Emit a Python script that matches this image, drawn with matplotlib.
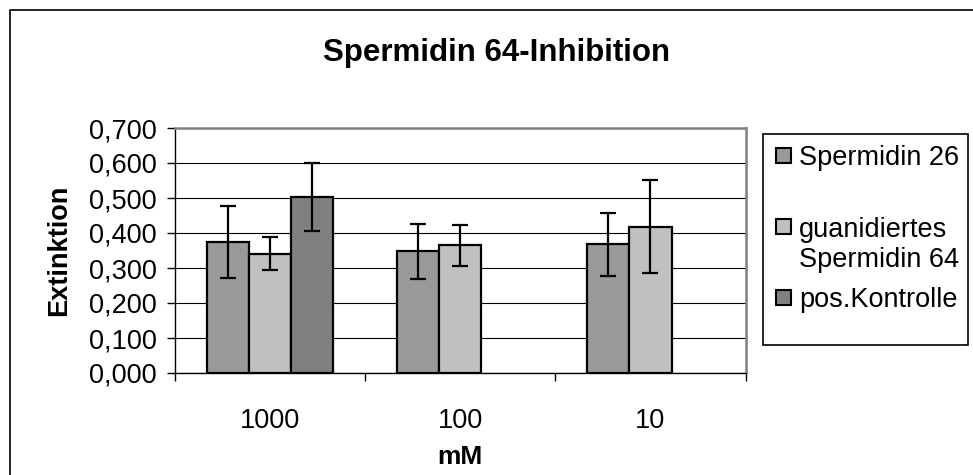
import matplotlib
matplotlib.use('Agg')
import matplotlib.pyplot as plt
import matplotlib.patches as patches
from matplotlib.ticker import FixedLocator, FuncFormatter
import numpy as np

# data
categories = ["1000", "100", "10"]
series_names = ["Spermidin 26", "guanidiertes\nSpermidin 64", "pos.Kontrolle"]
spermidin26 = [0.374, 0.348, 0.368]
spermidin26_err = [0.103, 0.078, 0.090]
guanidiert64 = [0.341, 0.365, 0.418]
guanidiert64_err = [0.047, 0.058, 0.132]
kontrolle = [0.503, np.nan, np.nan]
kontrolle_err = [0.098, np.nan, np.nan]
colors = ["#999999", "#c0c0c0", "#808080"]

W, H = 973, 475
def fx(px):
    return px / W
def fy(py):
    return 1 - py / H

plt.rcParams['font.family'] = ['Liberation Sans', 'DejaVu Sans']

fig = plt.figure(figsize=(W / 100, H / 100), dpi=100)
ax = fig.add_axes([fx(175), fy(373), fx(745.5) - fx(175), fy(128) - fy(373)])

x = np.arange(len(categories))
width = 0.222
values = [spermidin26, guanidiert64, kontrolle]
errors = [spermidin26_err, guanidiert64_err, kontrolle_err]
for i in range(3):
    ax.bar(x + (i - 1) * width, values[i], width, color=colors[i],
           edgecolor='black', linewidth=1.6, yerr=errors[i],
           error_kw=dict(ecolor='black', elinewidth=1.6, capsize=5.5, capthick=1.6),
           zorder=2)

ax.set_xlim(-0.5, 2.5)
ax.set_ylim(0, 0.7)
ax.yaxis.set_major_locator(FixedLocator(np.arange(0, 0.71, 0.1)))
ax.yaxis.set_major_formatter(FuncFormatter(lambda v, p: f"{v:.3f}".replace('.', ',')))
ax.grid(axis='y', color='black', linewidth=0.8)
ax.set_axisbelow(True)

ax.set_xticks(x)
ax.set_xticklabels(categories)
ax.set_xticks([-0.5, 0.5, 1.5, 2.5], minor=True)
ax.tick_params(axis='x', which='major', length=0, pad=25, labelsize=19.5)
ax.tick_params(axis='x', which='minor', length=6, width=1, direction='out')
ax.tick_params(axis='y', length=6, width=1, direction='out', pad=7, labelsize=19.5)

for s in ['top', 'right']:
    ax.spines[s].set_color('#808080')
    ax.spines[s].set_linewidth(1.8)
for s in ['left', 'bottom']:
    ax.spines[s].set_color('black')
    ax.spines[s].set_linewidth(1.0)

fig.text(fx(497), fy(61), "Spermidin 64-Inhibition", ha='center', va='baseline',
         fontsize=22.5, fontweight='bold')
fig.text(fx(460), fy(457), "mM", ha='center', va='center', fontsize=19, fontweight='bold')
fig.text(fx(59), fy(250), "Extinktion", ha='center', va='center', rotation=90,
         fontsize=19.5, fontweight='bold')

# legend box drawn by hand to follow the original spacing
fig.patches.append(patches.Rectangle((fx(762.5), fy(344.5)), fx(967.5) - fx(762.5),
                                     fy(133.5) - fy(344.5), transform=fig.transFigure,
                                     facecolor='white', edgecolor='black', linewidth=1.2))
entry_y = [155, 227, 297]
line_step = 30
for i, name in enumerate(series_names):
    cy = entry_y[i]
    fig.patches.append(patches.Rectangle((fx(775.5), fy(cy + 7.5)), fx(15), 15 / H,
                                         transform=fig.transFigure, facecolor=colors[i],
                                         edgecolor='black', linewidth=1.5))
    for k, line in enumerate(name.split('\n')):
        fig.text(fx(799), fy(cy + k * line_step), line, ha='left', va='center_baseline',
                 fontsize=19.5)

# outer chart border
fig.patches.append(patches.Rectangle((fx(10), -0.1), 1.2, fy(10) + 0.1,
                                     transform=fig.transFigure, fill=False,
                                     edgecolor='black', linewidth=1.2))

fig.savefig("out.png", dpi=100)
